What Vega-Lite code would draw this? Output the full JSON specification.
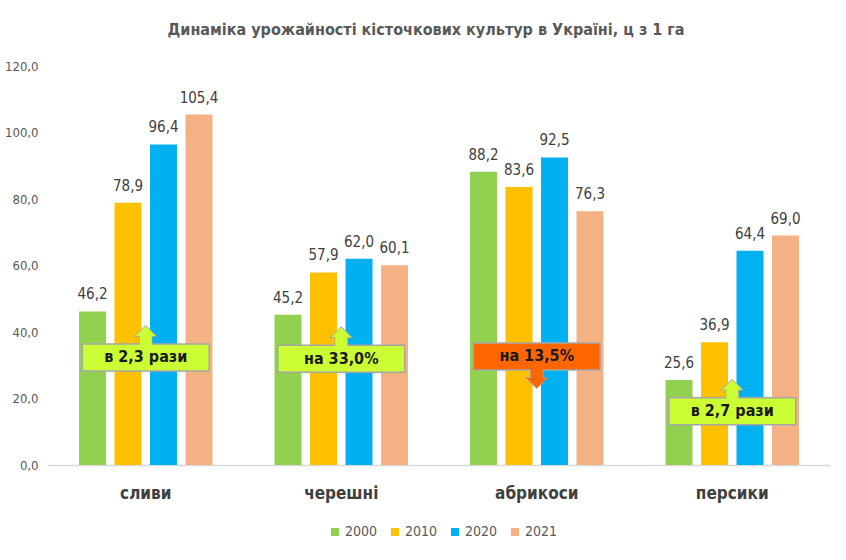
{
  "$schema": "https://vega.github.io/schema/vega-lite/v6.json",
  "width": 782,
  "height": 399,
  "autosize": {"type": "none"},
  "padding": {"left": 48, "top": 66, "right": 16, "bottom": 95},
  "background": "white",
  "title": {
    "text": "Динаміка урожайності кісточкових культур в Україні, ц з 1 га",
    "fontSize": 16,
    "fontWeight": "bold",
    "color": "#595959",
    "anchor": "middle",
    "offset": 22,
    "dx": -13
  },
  "datasets": {
    "yields": [
      {"crop": "сливи", "year": "2000", "value": 46.2},
      {"crop": "сливи", "year": "2010", "value": 78.9},
      {"crop": "сливи", "year": "2020", "value": 96.4},
      {"crop": "сливи", "year": "2021", "value": 105.4},
      {"crop": "черешні", "year": "2000", "value": 45.2},
      {"crop": "черешні", "year": "2010", "value": 57.9},
      {"crop": "черешні", "year": "2020", "value": 62.0},
      {"crop": "черешні", "year": "2021", "value": 60.1},
      {"crop": "абрикоси", "year": "2000", "value": 88.2},
      {"crop": "абрикоси", "year": "2010", "value": 83.6},
      {"crop": "абрикоси", "year": "2020", "value": 92.5},
      {"crop": "абрикоси", "year": "2021", "value": 76.3},
      {"crop": "персики", "year": "2000", "value": 25.6},
      {"crop": "персики", "year": "2010", "value": 36.9},
      {"crop": "персики", "year": "2020", "value": 64.4},
      {"crop": "персики", "year": "2021", "value": 69.0}
    ],
    "notes": [
      {"crop": "сливи", "note": "в 2,3 рази", "dir": "up", "lo": 28.3, "hi": 36.4},
      {"crop": "черешні", "note": "на 33,0%", "dir": "up", "lo": 27.9, "hi": 36.0},
      {"crop": "абрикоси", "note": "на 13,5%", "dir": "down", "lo": 28.6, "hi": 36.7},
      {"crop": "персики", "note": "в 2,7 рази", "dir": "up", "lo": 12.1, "hi": 20.2}
    ]
  },
  "layer": [
    {
      "data": {"name": "yields"},
      "mark": {"type": "bar"},
      "encoding": {
        "x": {
          "field": "crop",
          "type": "nominal",
          "scale": {"domain": ["сливи", "черешні", "абрикоси", "персики"], "paddingInner": 0.31, "paddingOuter": 0.155},
          "axis": {
            "title": null,
            "labelAngle": 0,
            "labelFontSize": 17,
            "labelFontWeight": "bold",
            "labelColor": "#404040",
            "labelPadding": 20,
            "ticks": false,
            "domainColor": "#D9D9D9",
            "domainWidth": 1.5
          }
        },
        "xOffset": {
          "field": "year",
          "type": "nominal",
          "scale": {"paddingInner": 0.24, "paddingOuter": 0.02}
        },
        "y": {
          "field": "value",
          "type": "quantitative",
          "scale": {"domain": [0, 120]},
          "axis": {
            "title": null,
            "values": [0, 20, 40, 60, 80, 100, 120],
            "format": ".1f",
            "domain": false,
            "ticks": false,
            "grid": false,
            "labelPadding": 10,
            "labelFontSize": 13,
            "labelColor": "#595959"
          }
        },
        "color": {
          "field": "year",
          "type": "nominal",
          "scale": {"domain": ["2000", "2010", "2020", "2021"], "range": ["#92D050", "#FFC000", "#00B0F0", "#F4B183"]},
          "legend": {
            "orient": "none",
            "legendX": 280,
            "legendY": 459,
            "direction": "horizontal",
            "title": null,
            "symbolType": "square",
            "symbolSize": 64,
            "symbolStrokeWidth": 0,
            "labelFontSize": 14,
            "labelColor": "#595959",
            "labelOffset": 3,
            "columnPadding": 10
          }
        }
      }
    },
    {
      "data": {"name": "yields"},
      "mark": {"type": "text", "baseline": "alphabetic", "dy": -12, "fontSize": 15, "color": "#404040"},
      "encoding": {
        "x": {"field": "crop", "type": "nominal", "scale": {"domain": ["сливи", "черешні", "абрикоси", "персики"]}},
        "xOffset": {"field": "year", "type": "nominal"},
        "y": {"field": "value", "type": "quantitative"},
        "text": {"field": "value", "type": "quantitative", "format": ".1f"}
      }
    },
    {
      "data": {"name": "notes"},
      "transform": [{"filter": "datum.dir === 'up'"}],
      "mark": {"type": "point", "filled": true, "size": 400, "stroke": "#A6A6A6", "strokeWidth": 1.5, "opacity": 1},
      "encoding": {
        "x": {"field": "crop", "type": "nominal", "scale": {"domain": ["сливи", "черешні", "абрикоси", "персики"]}},
        "y": {"field": "hi", "type": "quantitative"},
        "shape": {"value": "M0,-1.8L1,-0.8L0.6,-0.8L0.6,0.2L-0.6,0.2L-0.6,-0.8L-1,-0.8Z"},
        "fill": {"field": "dir", "type": "nominal", "scale": {"domain": ["up", "down"], "range": ["#CCFF33", "#FF6600"]}, "legend": null}
      }
    },
    {
      "data": {"name": "notes"},
      "transform": [{"filter": "datum.dir === 'down'"}],
      "mark": {"type": "point", "filled": true, "size": 400, "stroke": "#A6A6A6", "strokeWidth": 1.5, "opacity": 1},
      "encoding": {
        "x": {"field": "crop", "type": "nominal", "scale": {"domain": ["сливи", "черешні", "абрикоси", "персики"]}},
        "y": {"field": "lo", "type": "quantitative"},
        "shape": {"value": "M0,1.8L1,0.8L0.6,0.8L0.6,-0.2L-0.6,-0.2L-0.6,0.8L-1,0.8Z"},
        "fill": {"field": "dir", "type": "nominal", "legend": null}
      }
    },
    {
      "data": {"name": "notes"},
      "mark": {"type": "bar", "width": {"band": 0.94}, "stroke": "#A6A6A6", "strokeWidth": 1.5},
      "encoding": {
        "x": {"field": "crop", "type": "nominal", "scale": {"domain": ["сливи", "черешні", "абрикоси", "персики"]}},
        "y": {"field": "hi", "type": "quantitative"},
        "y2": {"field": "lo"},
        "fill": {"field": "dir", "type": "nominal", "legend": null}
      }
    },
    {
      "data": {"name": "notes"},
      "transform": [{"filter": "datum.dir === 'up'"}],
      "mark": {"type": "point", "filled": true, "size": 400, "strokeWidth": 0, "opacity": 1},
      "encoding": {
        "x": {"field": "crop", "type": "nominal", "scale": {"domain": ["сливи", "черешні", "абрикоси", "персики"]}},
        "y": {"field": "hi", "type": "quantitative"},
        "shape": {"value": "M0,-1.8L1,-0.8L0.6,-0.8L0.6,0.2L-0.6,0.2L-0.6,-0.8L-1,-0.8Z"},
        "fill": {"field": "dir", "type": "nominal", "legend": null}
      }
    },
    {
      "data": {"name": "notes"},
      "transform": [{"filter": "datum.dir === 'down'"}],
      "mark": {"type": "point", "filled": true, "size": 400, "strokeWidth": 0, "opacity": 1},
      "encoding": {
        "x": {"field": "crop", "type": "nominal", "scale": {"domain": ["сливи", "черешні", "абрикоси", "персики"]}},
        "y": {"field": "lo", "type": "quantitative"},
        "shape": {"value": "M0,1.8L1,0.8L0.6,0.8L0.6,-0.2L-0.6,-0.2L-0.6,0.8L-1,0.8Z"},
        "fill": {"field": "dir", "type": "nominal", "legend": null}
      }
    },
    {
      "data": {"name": "notes"},
      "mark": {"type": "text", "baseline": "middle", "dy": -13.5, "fontSize": 16, "fontWeight": "bold", "color": "#1a1a1a"},
      "encoding": {
        "x": {"field": "crop", "type": "nominal", "scale": {"domain": ["сливи", "черешні", "абрикоси", "персики"]}},
        "y": {"field": "lo", "type": "quantitative"},
        "text": {"field": "note"}
      }
    }
  ],
  "config": {
    "font": "DejaVu Sans Condensed, sans-serif",
    "locale": {"number": {"decimal": ",", "thousands": " ", "grouping": [3], "currency": ["", ""]}},
    "view": {"stroke": null}
  }
}
